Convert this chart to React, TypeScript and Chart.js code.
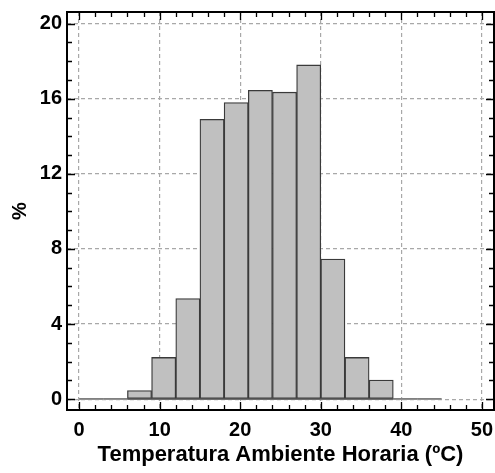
import React, { useEffect, useRef } from "react";
import { Chart, registerables } from "chart.js";

Chart.register(...registerables);

const binStarts = [0, 3, 6, 9, 12, 15, 18, 21, 24, 27, 30, 33, 36, 39, 42];
const binWidth = 3;
const percentValues = [0, 0, 0.46, 2.22, 5.36, 14.9, 15.8, 16.45, 16.35, 17.8, 7.46, 2.22, 1.01, 0, 0];
const xMajorTicks = [0, 10, 20, 30, 40, 50];
const xMinorTicks = [0, 2, 4, 6, 8, 10, 12, 14, 16, 18, 20, 22, 24, 26, 28, 30, 32, 34, 36, 38, 40, 42, 44, 46, 48, 50];
const yMajorTicks = [0, 4, 8, 12, 16, 20];
const yMinorTicks = [0, 1, 2, 3, 4, 5, 6, 7, 8, 9, 10, 11, 12, 13, 14, 15, 16, 17, 18, 19, 20];
const baselineRange = [0, 45];
const xTitle = "Temperatura Ambiente Horaria (ºC)";
const yTitle = "%";

const FONT = "'Liberation Sans', Arial, sans-serif";

const framePlugin = {
  id: "frame",
  afterDraw(chart: any) {
    const { ctx, chartArea } = chart;
    const { left, right, top, bottom } = chartArea;
    const xs = chart.scales.x;
    const ys = chart.scales.y;
    ctx.save();
    ctx.strokeStyle = "#000";
    ctx.lineWidth = 1.3;
    ctx.beginPath();
    xMinorTicks.forEach((v) => {
      const px = Math.round(xs.getPixelForValue(v)) + 0.5;
      const len = xMajorTicks.includes(v) ? 8 : 5;
      ctx.moveTo(px, bottom);
      ctx.lineTo(px, bottom - len);
      ctx.moveTo(px, top);
      ctx.lineTo(px, top + len);
    });
    yMinorTicks.forEach((v) => {
      const py = Math.round(ys.getPixelForValue(v)) + 0.5;
      const len = yMajorTicks.includes(v) ? 8 : 5;
      ctx.moveTo(left, py);
      ctx.lineTo(left + len, py);
      ctx.moveTo(right, py);
      ctx.lineTo(right - len, py);
    });
    ctx.stroke();
    ctx.lineWidth = 2;
    ctx.strokeRect(left, top, right - left, bottom - top);
    ctx.restore();
  },
};

export default function App() {
  const canvasRef = useRef<HTMLCanvasElement | null>(null);

  useEffect(() => {
    if (!canvasRef.current) return;
    const barData = binStarts.map((s, i) => ({ x: s + binWidth / 2, y: percentValues[i] }));
    const chart = new Chart(canvasRef.current, {
      type: "bar",
      data: {
        datasets: [
          {
            type: "bar",
            data: barData as any,
            backgroundColor: "#c0c0c0",
            borderColor: "#3a3a3a",
            borderWidth: ((c: any) => (c.raw && c.raw.y > 0 ? 1.3 : 0)) as any,
            borderSkipped: false,
            barPercentage: 1,
            categoryPercentage: 1,
            order: 0,
          } as any,
          {
            type: "line",
            data: baselineRange.map((v) => ({ x: v, y: 0 })) as any,
            borderColor: "#6e6e6e",
            borderWidth: 2,
            pointRadius: 0,
            order: 1,
          } as any,
        ],
      },
      options: {
        animation: false,
        responsive: true,
        maintainAspectRatio: false,
        layout: { padding: { top: 12, right: 1, left: 0, bottom: 0 } },
        plugins: { legend: { display: false }, tooltip: { enabled: false } },
        scales: {
          x: {
            type: "linear",
            min: -1.5,
            max: 51.5,
            offset: false,
            afterBuildTicks: (s: any) => {
              s.ticks = xMajorTicks.map((v) => ({ value: v }));
            },
            afterFit: (s: any) => {
              s.height = 63;
              s.paddingLeft = 0;
              s.paddingRight = 0;
            },
            grid: {
              offset: false,
              drawTicks: false,
              color: "#a8a8a8",
              lineWidth: 1.2,
            },
            border: { display: false, dash: [4, 3] },
            ticks: {
              padding: 8,
              color: "#000",
              font: { family: FONT, size: 20, weight: "bold" },
              callback: (v: any) => String(v),
              maxRotation: 0,
            },
            title: {
              display: true,
              text: xTitle,
              color: "#000",
              font: { family: FONT, size: 22, weight: "bold" },
              padding: { top: 0, bottom: 5 },
            },
          },
          y: {
            type: "linear",
            min: -0.58,
            max: 20.62,
            afterBuildTicks: (s: any) => {
              s.ticks = yMajorTicks.map((v) => ({ value: v }));
            },
            afterFit: (s: any) => {
              s.width = 67;
              s.paddingTop = 0;
              s.paddingBottom = 0;
            },
            grid: {
              drawTicks: false,
              color: "#a8a8a8",
              lineWidth: 1.2,
            },
            border: { display: false, dash: [4, 3] },
            ticks: {
              padding: 5,
              color: "#000",
              font: { family: FONT, size: 20, weight: "bold" },
              callback: (v: any) => String(v),
            },
            title: {
              display: true,
              text: yTitle,
              color: "#000",
              font: { family: FONT, size: 20, weight: "bold" },
              padding: { top: 8, bottom: 0 },
            },
          },
        },
      },
      plugins: [framePlugin],
    });
    return () => chart.destroy();
  }, []);

  return (
    <div style={{ position: "absolute", left: 0, top: 0, width: 495, height: 473, background: "#fff" }}>
      <canvas ref={canvasRef} />
    </div>
  );
}
